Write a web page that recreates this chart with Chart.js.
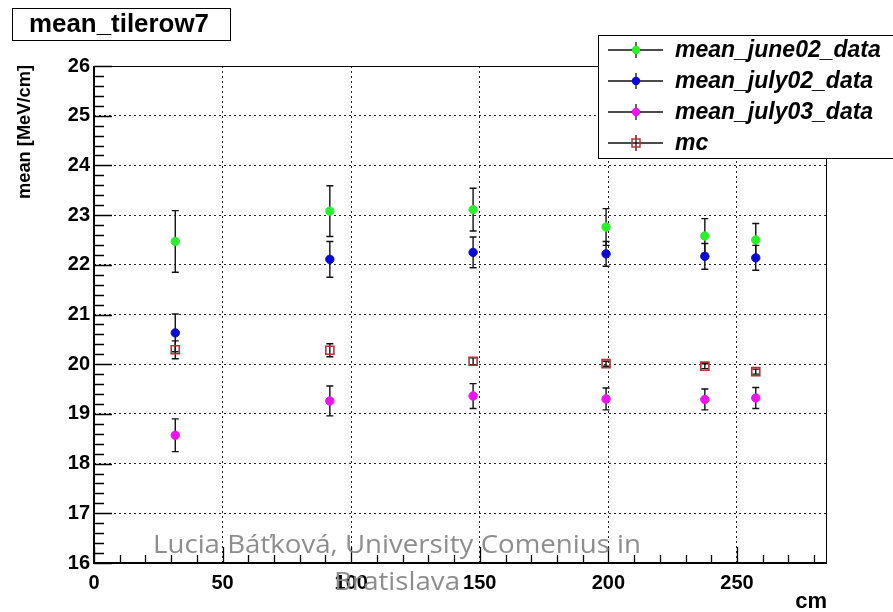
<!DOCTYPE html>
<html><head><meta charset="utf-8">
<script src="https://cdn.jsdelivr.net/npm/chart.js@4"></script>
<style>html,body{margin:0;padding:0;background:#fff}canvas{display:block}</style>
</head><body>
<canvas id="c" width="893" height="612"></canvas>
<script>
// ---- data ----
const positionsCm = [31.6, 91.7, 147.4, 199.1, 237.5, 257.3];
const meanJune02 = [22.47, 23.08, 23.11, 22.76, 22.58, 22.50];
const errJune02  = [0.62, 0.51, 0.43, 0.37, 0.35, 0.33];
const meanJuly02 = [20.63, 22.11, 22.25, 22.22, 22.17, 22.14];
const errJuly02  = [0.38, 0.36, 0.31, 0.25, 0.26, 0.25];
const meanJuly03 = [18.57, 19.26, 19.36, 19.30, 19.29, 19.32];
const errJuly03  = [0.33, 0.30, 0.25, 0.22, 0.21, 0.21];
const meanMC     = [20.29, 20.28, 20.06, 20.01, 19.96, 19.85];
const errMC      = [0.18, 0.13, 0.07, 0.05, 0.05, 0.05];
const seriesNames = ['mean_june02_data', 'mean_july02_data', 'mean_july03_data', 'mc'];
const xTickLabels = [0, 50, 100, 150, 200, 250];
const yTickLabels = [16, 17, 18, 19, 20, 21, 22, 23, 24, 25, 26];
const xRange = [0, 285];
const yRange = [16, 26];
const plotTitle = 'mean_tilerow7';
const xTitle = 'cm';
const yTitle = 'mean [MeV/cm]';
const footer1 = 'Lucia Báťková, University Comenius in';
const footer2 = 'Bratislava';

const colors = ['#2af02a', '#0a0ad2', '#f010f0', '#b83232'];
const FONT = "'Liberation Sans', Arial, sans-serif";

function pts(vals) { return positionsCm.map((x, i) => ({ x: x, y: vals[i] })); }

const seriesVals = [meanJune02, meanJuly02, meanJuly03, meanMC];
const seriesErrs = [errJune02, errJuly02, errJuly03, errMC];

const datasets = seriesVals.map((v, k) => ({
  label: seriesNames[k],
  data: pts(v),
  errors: seriesErrs[k],
  showLine: false,
  pointStyle: k === 3 ? 'rect' : 'circle',
  pointRadius: k === 3 ? 5.7 : 4.2,
  pointBackgroundColor: k === 3 ? 'rgba(255,255,255,0)' : colors[k],
  pointBorderColor: colors[k],
  pointBorderWidth: k === 3 ? 1.6 : 1,
  order: 3 - k
}));

function drawMarker(ctx, k, x, y) {
  ctx.save();
  if (k === 3) {
    ctx.strokeStyle = colors[k]; ctx.lineWidth = 1.5;
    ctx.strokeRect(x - 4, y - 4, 8, 8);
  } else {
    ctx.fillStyle = colors[k];
    ctx.beginPath(); ctx.arc(x, y, 4.2, 0, Math.PI * 2); ctx.fill();
  }
  ctx.restore();
}

const errorBarPlugin = {
  id: 'errorBars',
  beforeDatasetsDraw(chart) {
    const ctx = chart.ctx, xs = chart.scales.x, ys = chart.scales.y;
    ctx.save();
    ctx.strokeStyle = '#111'; ctx.lineWidth = 1.4;
    chart.data.datasets.forEach(ds => {
      ds.data.forEach((p, i) => {
        const e = ds.errors[i];
        const px = xs.getPixelForValue(p.x);
        const y1 = ys.getPixelForValue(p.y + e), y2 = ys.getPixelForValue(p.y - e);
        ctx.beginPath();
        ctx.moveTo(px, y1); ctx.lineTo(px, y2);
        ctx.moveTo(px - 3.5, y1); ctx.lineTo(px + 3.5, y1);
        ctx.moveTo(px - 3.5, y2); ctx.lineTo(px + 3.5, y2);
        ctx.stroke();
      });
    });
    ctx.restore();
  }
};

const framePlugin = {
  id: 'rootFrame',
  afterDatasetsDraw(chart) {
    const ctx = chart.ctx, a = chart.chartArea, xs = chart.scales.x, ys = chart.scales.y;
    ctx.save();
    ctx.strokeStyle = '#000';
    ctx.lineWidth = 1;
    ctx.strokeRect(a.left + 0.5, a.top + 0.5, a.right - a.left - 1, a.bottom - a.top);
    ctx.lineWidth = 2;
    ctx.beginPath();
    ctx.moveTo(a.left, a.top); ctx.lineTo(a.left, a.bottom); ctx.lineTo(a.right, a.bottom);
    ctx.stroke();
    ctx.lineWidth = 1.3;
    ctx.beginPath();
    for (let v = yRange[0]; v <= yRange[1] + 1e-9; v += 0.2) {
      const py = Math.round(ys.getPixelForValue(v)) + 0.5;
      const major = Math.abs(v - Math.round(v)) < 1e-6;
      ctx.moveTo(a.left, py); ctx.lineTo(a.left + (major ? 18 : 10), py);
    }
    for (let v = xRange[0]; v <= xRange[1]; v += 10) {
      const px = Math.round(xs.getPixelForValue(v)) + 0.5;
      const major = v % 50 === 0;
      ctx.moveTo(px, a.bottom); ctx.lineTo(px, a.bottom - (major ? 16 : 8));
    }
    ctx.stroke();
    ctx.restore();
  },
  afterDraw(chart) {
    const ctx = chart.ctx, a = chart.chartArea;
    ctx.save();
    ctx.fillStyle = '#000';
    ctx.font = 'bold 19px ' + FONT;
    ctx.save();
    ctx.translate(25, a.top - 1);
    ctx.rotate(-Math.PI / 2);
    ctx.textAlign = 'right'; ctx.textBaseline = 'middle';
    ctx.fillText(yTitle, 0, 0, 134);
    ctx.restore();
    ctx.font = 'bold 22px ' + FONT;
    ctx.textAlign = 'right'; ctx.textBaseline = 'alphabetic';
    ctx.fillText(xTitle, a.right, 608);

    // title box
    ctx.fillStyle = '#fff';
    ctx.fillRect(12, 8, 218, 32);
    ctx.strokeStyle = '#000'; ctx.lineWidth = 1;
    ctx.strokeRect(12.5, 8.5, 218, 32);
    ctx.fillStyle = '#000';
    ctx.font = 'bold 26px ' + FONT;
    ctx.textAlign = 'left'; ctx.textBaseline = 'middle';
    ctx.fillText(plotTitle, 29, 25, 180);

    // legend
    ctx.fillStyle = '#fff';
    ctx.fillRect(598, 35, 300, 123);
    ctx.strokeStyle = '#000'; ctx.lineWidth = 1;
    ctx.strokeRect(598.5, 35.5, 300, 123);
    const rows = [50, 81, 112, 143];
    ctx.font = 'italic bold 23px ' + FONT;
    rows.forEach((ry, k) => {
      ctx.strokeStyle = '#111'; ctx.lineWidth = 1.3;
      ctx.beginPath();
      ctx.moveTo(608, ry); ctx.lineTo(663, ry);
      ctx.moveTo(636, ry - 8); ctx.lineTo(636, ry + 8);
      ctx.stroke();
      drawMarker(ctx, k, 636, ry);
      ctx.fillStyle = '#000';
      ctx.textAlign = 'left'; ctx.textBaseline = 'middle';
      ctx.fillText(seriesNames[k], 675, ry + 1);
    });

    // footer watermark
    ctx.font = "26px 'Open Sans', sans-serif";
    const w1 = ctx.measureText(footer1).width;
    const sx = 488 / w1;
    ctx.fillStyle = 'rgba(135,135,135,0.95)';
    ctx.textAlign = 'center'; ctx.textBaseline = 'alphabetic';
    ctx.save();
    ctx.translate(397, 0); ctx.scale(sx, 1);
    ctx.fillText(footer1, 0, 553);
    ctx.fillText(footer2, 0, 590);
    ctx.restore();
    ctx.restore();
  }
};

new Chart(document.getElementById('c'), {
  type: 'scatter',
  data: { datasets: datasets },
  options: {
    responsive: false,
    animation: false,
    events: [],
    layout: { padding: { left: 0, right: 66, top: 66, bottom: 0 } },
    plugins: { legend: { display: false }, tooltip: { enabled: false }, title: { display: false } },
    scales: {
      x: {
        type: 'linear', min: xRange[0], max: xRange[1],
        afterBuildTicks: s => { s.ticks = xTickLabels.map(v => ({ value: v })); },
        afterFit: s => { s.height = 49; },
        grid: { color: '#222', lineWidth: 1, drawTicks: false },
        border: { display: false, dash: [2, 3] },
        ticks: { color: '#000', padding: 8, maxRotation: 0, autoSkip: false,
                 font: { family: FONT, weight: 'bold', size: 20 } }
      },
      y: {
        type: 'linear', min: yRange[0], max: yRange[1],
        afterBuildTicks: s => { s.ticks = yTickLabels.map(v => ({ value: v })); },
        afterFit: s => { s.width = 94; },
        grid: { color: '#222', lineWidth: 1, drawTicks: false },
        border: { display: false, dash: [2, 3] },
        ticks: { color: '#000', padding: 4, autoSkip: false,
                 font: { family: FONT, weight: 'bold', size: 20 } }
      }
    }
  },
  plugins: [errorBarPlugin, framePlugin]
});
</script>
</body></html>
